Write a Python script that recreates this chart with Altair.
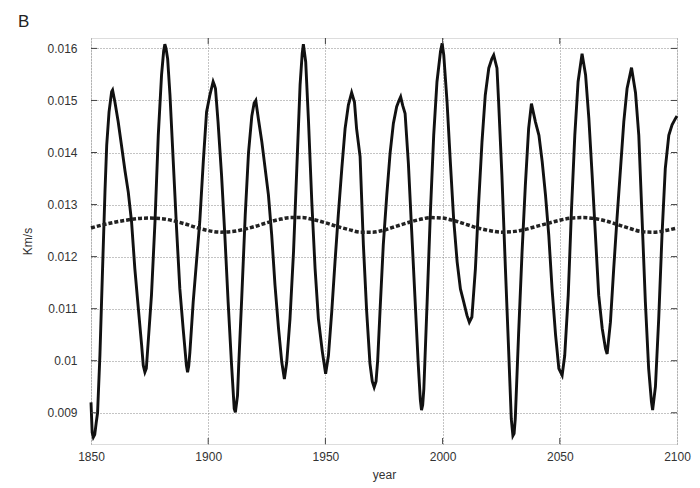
import altair as alt
import pandas as pd

# Solid series (year, Km/s)
years_solid = [
    1850.0, 1850.5, 1851.0, 1851.6, 1852.2, 1852.8, 1853.8, 1854.5, 1855.2, 1856.0,
    1856.7, 1857.7, 1858.8, 1859.2, 1860.2, 1861.6, 1863.0, 1864.5, 1865.9, 1867.3,
    1868.7, 1870.2, 1871.6, 1872.3, 1873.0, 1873.6, 1874.4, 1875.8, 1877.3, 1878.7,
    1880.1, 1881.0, 1881.5, 1882.0, 1882.7, 1883.7, 1885.1, 1886.5, 1887.9, 1889.3,
    1890.7, 1891.2, 1891.7, 1892.2, 1893.6, 1895.0, 1896.4, 1897.9, 1899.3, 1900.7,
    1902.1, 1902.6, 1903.1, 1904.2, 1905.7, 1907.1, 1908.5, 1909.9, 1911.1, 1911.6,
    1912.5, 1913.0, 1914.3, 1915.8, 1917.2, 1918.6, 1919.6, 1920.3, 1921.4, 1922.9,
    1924.3, 1925.7, 1927.1, 1928.5, 1930.0, 1931.4, 1932.5, 1933.5, 1934.9, 1936.4,
    1937.8, 1939.2, 1940.1, 1940.6, 1941.6, 1942.8, 1944.2, 1945.6, 1947.0, 1948.7,
    1950.1, 1951.3, 1952.7, 1954.1, 1955.5, 1957.0, 1958.4, 1959.8, 1961.2, 1962.4,
    1963.3, 1964.8, 1966.2, 1967.6, 1969.0, 1970.0, 1970.8, 1971.6, 1972.3, 1973.3,
    1974.7, 1976.2, 1977.6, 1979.0, 1980.4, 1981.4, 1982.1, 1983.0, 1984.0, 1985.4,
    1986.8, 1988.2, 1989.6, 1990.5, 1991.0, 1991.5, 1992.0, 1993.4, 1994.8, 1996.2,
    1997.6, 1999.1, 1999.8, 2000.5, 2001.9, 2003.3, 2004.7, 2006.2, 2007.6, 2009.0,
    2010.4, 2011.4, 2012.5, 2014.0, 2015.4, 2016.8, 2018.2, 2019.7, 2021.0, 2021.8,
    2023.2, 2023.9, 2025.3, 2026.8, 2028.2, 2029.3, 2030.0, 2030.5, 2031.0, 2032.4,
    2033.9, 2035.3, 2036.7, 2037.9, 2039.6, 2041.1, 2042.5, 2043.9, 2045.3, 2046.7,
    2048.2, 2049.6, 2051.0, 2052.1, 2053.6, 2055.0, 2056.4, 2057.8, 2059.5, 2061.0,
    2062.4, 2063.8, 2065.2, 2066.6, 2068.1, 2069.5, 2070.2, 2071.6, 2073.0, 2074.4,
    2075.9, 2077.3, 2078.7, 2080.6, 2082.3, 2083.7, 2085.1, 2086.5, 2087.9, 2089.1,
    2089.6, 2090.8, 2092.2, 2093.6, 2095.0, 2096.5, 2097.9, 2099.3, 2100.0,
]
vals_solid = [
    0.00920, 0.00862, 0.00853, 0.00858, 0.00880, 0.00900, 0.01010, 0.01113, 0.01215, 0.01330,
    0.01414, 0.01478, 0.01517, 0.01520, 0.01497, 0.01459, 0.01414, 0.01365, 0.01324, 0.01267,
    0.01177, 0.01100, 0.01030, 0.00991, 0.00978, 0.00985, 0.01036, 0.01126, 0.01267, 0.01433,
    0.01549, 0.01595, 0.01608, 0.01600, 0.01580, 0.01510, 0.01382, 0.01254, 0.01138, 0.01062,
    0.00991, 0.00978, 0.00990, 0.01017, 0.01113, 0.01190, 0.01267, 0.01382, 0.01478, 0.01510,
    0.01536, 0.01530, 0.01523, 0.01459, 0.01356, 0.01241, 0.01113, 0.00997, 0.00908, 0.00901,
    0.00933, 0.00990, 0.01120, 0.01280, 0.01400, 0.01470, 0.01495, 0.01500, 0.01465, 0.01420,
    0.01369, 0.01318, 0.01241, 0.01145, 0.01062, 0.00997, 0.00965, 0.00997, 0.01081, 0.01209,
    0.01369, 0.01530, 0.01590, 0.01608, 0.01574, 0.01459, 0.01305, 0.01177, 0.01081, 0.01017,
    0.00975, 0.01010, 0.01094, 0.01190, 0.01280, 0.01369, 0.01446, 0.01491, 0.01515, 0.01497,
    0.01446, 0.01392, 0.01223, 0.01095, 0.00995, 0.00960, 0.00949, 0.00960, 0.01000, 0.01095,
    0.01223, 0.01319, 0.01399, 0.01456, 0.01488, 0.01500, 0.01507, 0.01490, 0.01475, 0.01379,
    0.01250, 0.01122, 0.00994, 0.00925, 0.00905, 0.00915, 0.00946, 0.01113, 0.01286, 0.01433,
    0.01536, 0.01594, 0.01610, 0.01587, 0.01497, 0.01382, 0.01273, 0.01190, 0.01138, 0.01113,
    0.01087, 0.01074, 0.01084, 0.01177, 0.01305, 0.01420, 0.01510, 0.01562, 0.01580, 0.01587,
    0.01562, 0.01497, 0.01356, 0.01177, 0.01017, 0.00888, 0.00856, 0.00860, 0.00888, 0.01049,
    0.01209, 0.01337, 0.01446, 0.01494, 0.01459, 0.01433, 0.01382, 0.01318, 0.01241, 0.01138,
    0.01049, 0.00985, 0.00972, 0.01010, 0.01126, 0.01292, 0.01433, 0.01536, 0.01590, 0.01549,
    0.01465, 0.01356, 0.01241, 0.01126, 0.01062, 0.01023, 0.01013, 0.01074, 0.01177, 0.01273,
    0.01369, 0.01459, 0.01523, 0.01563, 0.01515, 0.01433, 0.01273, 0.01113, 0.00985, 0.00921,
    0.00905, 0.00950, 0.01081, 0.01241, 0.01369, 0.01433, 0.01453, 0.01465, 0.01470,
]

# Dashed series, every 5 years
years_dash = list(range(1850, 2101, 5))
vals_dash = [
    0.01255, 0.01261, 0.01266, 0.01270, 0.01273, 0.01274, 0.01273, 0.01269, 0.01263, 0.01256,
    0.01250, 0.01247, 0.01248, 0.01252, 0.01258, 0.01265, 0.01271, 0.01275, 0.01275, 0.01271,
    0.01265, 0.01258, 0.01252, 0.01247, 0.01247, 0.01251, 0.01258, 0.01265, 0.01271, 0.01275,
    0.01274, 0.01269, 0.01262, 0.01255, 0.01250, 0.01247, 0.01248, 0.01252, 0.01258, 0.01264,
    0.01270, 0.01274, 0.01275, 0.01273, 0.01268, 0.01261, 0.01254, 0.01248, 0.01247, 0.01250,
    0.01255,
]

y_ticks = [0.009, 0.010, 0.011, 0.012, 0.013, 0.014, 0.015, 0.016]
x_ticks = [1850, 1900, 1950, 2000, 2050, 2100]

W, H = 586, 406
FONT = "Liberation Sans"

solid_df = pd.DataFrame({"year": years_solid, "value": vals_solid})
dash_df = pd.DataFrame({"year": years_dash, "value": vals_dash})
ytick_df = pd.DataFrame({"value": y_ticks})
xtick_df = pd.DataFrame({"year": x_ticks[1:-1]})

xscale = alt.Scale(domain=[1850, 2100], nice=False, zero=False)
yscale = alt.Scale(domain=[0.0084, 0.0162], nice=False, zero=False)

xaxis = alt.Axis(
    values=x_ticks, format="d", title="year", grid=True, ticks=False, domain=False,
    labelPadding=7, labelFont=FONT, labelFontSize=12, labelColor="#333",
    titleFont=FONT, titleFontSize=12, titleColor="#333", titleFontWeight="normal",
    titleY=30, titleBaseline="middle",
    gridDash=[1, 2], gridColor="#888", gridWidth=1, labelFlush=False,
)
yaxis = alt.Axis(
    values=y_ticks, format="~g", title="Km/s", grid=True, ticks=False, domain=False,
    labelPadding=14, labelFont=FONT, labelFontSize=12, labelColor="#333",
    titleFont=FONT, titleFontSize=12, titleColor="#333", titleFontWeight="normal",
    titleX=-64, titleY=H / 2, titleBaseline="middle", titleAngle=270,
    gridDash=[1, 2], gridColor="#888", gridWidth=1, labelFlush=False,
)

solid = alt.Chart(solid_df).mark_line(color="#111", strokeWidth=2.9).encode(
    x=alt.X("year:Q", scale=xscale, axis=xaxis),
    y=alt.Y("value:Q", scale=yscale, axis=yaxis),
)

dashed = alt.Chart(dash_df).mark_line(
    color="#222", strokeWidth=3.5, strokeDash=[4, 2], interpolate="monotone"
).encode(
    x=alt.X("year:Q", scale=xscale),
    y=alt.Y("value:Q", scale=yscale),
)

tick_col = "#444"
yt_left = alt.Chart(ytick_df).mark_rule(color=tick_col, strokeWidth=1).encode(
    y=alt.Y("value:Q", scale=yscale), x=alt.value(0), x2=alt.value(6)
)
yt_right = alt.Chart(ytick_df).mark_rule(color=tick_col, strokeWidth=1).encode(
    y=alt.Y("value:Q", scale=yscale), x=alt.value(W - 6), x2=alt.value(W)
)
xt_bottom = alt.Chart(xtick_df).mark_rule(color=tick_col, strokeWidth=1).encode(
    x=alt.X("year:Q", scale=xscale), y=alt.value(H - 6), y2=alt.value(H)
)
xt_top = alt.Chart(xtick_df).mark_rule(color=tick_col, strokeWidth=1).encode(
    x=alt.X("year:Q", scale=xscale), y=alt.value(0), y2=alt.value(6)
)

label_b = alt.Chart(pd.DataFrame({"t": ["B"]})).mark_text(
    font=FONT, fontSize=17, color="#222", align="left", baseline="middle"
).encode(text="t:N", x=alt.value(-73), y=alt.value(-16))

chart = alt.layer(
    solid, dashed, yt_left, yt_right, xt_bottom, xt_top, label_b
).properties(
    width=W, height=H,
    autosize=alt.AutoSizeParams(type="none"),
    padding={"left": 83, "top": 30, "right": 15, "bottom": 44},
).configure_view(
    stroke="#555", strokeWidth=1.5
).configure(background="white")

chart.save("out.html", embed_options={"renderer": "svg", "actions": False})
